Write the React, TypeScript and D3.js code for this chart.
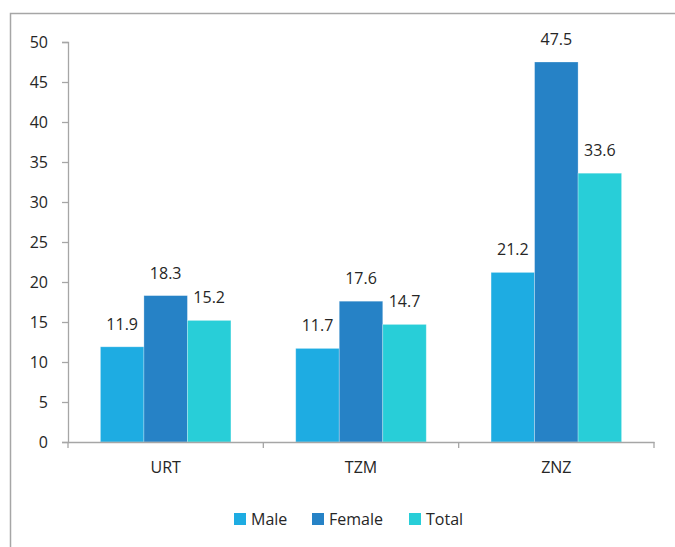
import React, { useEffect, useRef } from 'react';
import * as d3 from 'd3';

const categories = ['URT', 'TZM', 'ZNZ'];
const seriesNames = ['Male', 'Female', 'Total'];
const maleValues = [11.9, 11.7, 21.2];
const femaleValues = [18.3, 17.6, 47.5];
const totalValues = [15.2, 14.7, 33.6];
const yTicks = [0, 5, 10, 15, 20, 25, 30, 35, 40, 45, 50];

const colors = ['#1EACE2', '#2682C6', '#28CED8'];
const font = '"Open Sans", "Noto Sans", sans-serif';

const App: React.FC = () => {
  const svgRef = useRef<SVGSVGElement>(null);

  useEffect(() => {
    if (!svgRef.current) return;
    const svg = d3.select(svgRef.current);
    svg.selectAll('*').remove();

    const left = 68;
    const right = 654;
    const top = 42;
    const bottom = 442;

    // chart frame (right and bottom edges fall outside the picture)
    svg.append('rect')
      .attr('x', 10.5).attr('y', 13.5)
      .attr('width', 1000).attr('height', 1000)
      .attr('fill', 'none').attr('stroke', '#a6a6a6').attr('stroke-width', 1.5);

    const x = d3.scaleBand<string>().domain(categories).range([left, right]).paddingInner(0).paddingOuter(0);
    const x1 = d3.scaleBand<string>().domain(seriesNames).range([0, x.bandwidth()]).paddingInner(0).paddingOuter(0.745);
    const y = d3.scaleLinear().domain([0, 50]).range([bottom, top]);

    const allValues = [maleValues, femaleValues, totalValues];
    const data = categories.flatMap((c, i) =>
      seriesNames.map((s, j) => ({ cat: c, series: s, value: allValues[j][i], color: colors[j] })));

    // bars
    svg.append('g')
      .selectAll('rect')
      .data(data)
      .join('rect')
      .attr('x', d => x(d.cat)! + x1(d.series)!)
      .attr('y', d => y(d.value))
      .attr('width', x1.bandwidth())
      .attr('height', d => y(0) - y(d.value))
      .attr('fill', d => d.color)
      .attr('stroke', '#ffffff')
      .attr('stroke-opacity', 0.35)
      .attr('stroke-width', 0.8);

    // value labels
    svg.append('g')
      .attr('font-family', font)
      .attr('font-size', 16)
      .attr('fill', '#262626')
      .attr('text-anchor', 'middle')
      .selectAll('text')
      .data(data)
      .join('text')
      .attr('x', d => x(d.cat)! + x1(d.series)! + x1.bandwidth() / 2)
      .attr('y', d => y(d.value) - 17)
      .text(d => d.value.toFixed(1));

    // y axis
    svg.append('g')
      .attr('transform', `translate(${left},0)`)
      .call(d3.axisLeft(y).tickValues(yTicks).tickSize(6).tickPadding(14))
      .call(g => g.selectAll('line, path').attr('stroke', '#a6a6a6').attr('stroke-width', 1.3))
      .call(g => g.selectAll('text').attr('font-family', font).attr('font-size', 16).attr('fill', '#262626'));

    // x axis
    svg.append('g')
      .attr('transform', `translate(0,${bottom})`)
      .call(d3.axisBottom(x).tickSize(0).tickPadding(20))
      .call(g => g.select('.domain').attr('stroke', '#a6a6a6').attr('stroke-width', 1.3))
      .call(g => g.selectAll('text').attr('font-family', font).attr('font-size', 16).attr('fill', '#262626'));

    // category boundary ticks
    const bounds = [left, ...categories.slice(1).map(c => x(c)!), right];
    svg.append('g')
      .selectAll('line')
      .data(bounds)
      .join('line')
      .attr('x1', d => d).attr('x2', d => d)
      .attr('y1', bottom).attr('y2', bottom + 6)
      .attr('stroke', '#a6a6a6').attr('stroke-width', 1.3);

    // legend
    const legendX = [234, 312, 409];
    const leg = svg.append('g').attr('transform', 'translate(0,513)');
    seriesNames.forEach((s, i) => {
      leg.append('rect')
        .attr('x', legendX[i]).attr('y', 0)
        .attr('width', 12).attr('height', 12)
        .attr('fill', colors[i]);
      leg.append('text')
        .attr('x', legendX[i] + 17).attr('y', 12)
        .attr('font-family', font).attr('font-size', 16)
        .attr('fill', '#262626')
        .text(s);
    });
  }, []);

  return (
    <div style={{ position: 'fixed', left: 0, top: 0, width: 675, height: 547, background: '#fff', overflow: 'hidden' }}>
      <svg ref={svgRef} width={675} height={547} style={{ display: 'block' }}></svg>
    </div>
  );
};

export default App;
